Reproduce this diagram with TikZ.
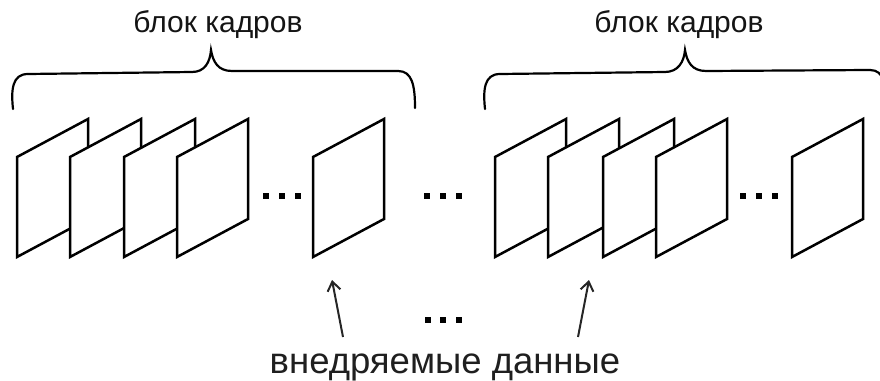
\documentclass[tikz,border=0pt]{standalone}
\usepackage{fontspec}
\setmainfont{Liberation Sans}
\usetikzlibrary{arrows.meta}
\tikzset{
  framebox/.style={draw=black, fill=white, line width=2.5pt, line join=miter},
  bracepath/.style={draw=black, line width=2.2pt, line cap=round},
  sqdot/.style={rectangle, fill=black, minimum size=5.5pt, inner sep=0pt},
  toplbl/.style={anchor=base, inner sep=0pt, font=\fontsize{30}{35}\selectfont, text=black!92},
  botlbl/.style={anchor=base, inner sep=0pt, font=\fontsize{36.5}{44}\selectfont, text=black!88},
  ptr/.style={draw=black!85, line width=2pt, -{Straight Barb[length=9pt,width=13pt,line width=2pt]}}
}
\newcommand{\myframe}[1]{\path[framebox] (#1,157) -- (#1+71,119) -- (#1+71,219) -- (#1,257) -- cycle;}
\begin{document}
\begin{tikzpicture}[x=1pt,y=-1pt]
\useasboundingbox (0,0) rectangle (880,380);
\clip (0,0) rectangle (880,380);
% labels
\node[toplbl] (t1) at (218,32) {блок кадров};
\node[toplbl] (t2) at (679,32) {блок кадров};
% braces
\path[bracepath] (13,109) .. controls (11,90) and (12,74) .. (28,74) -- (192,72)
  .. controls (205,72) and (210,62) .. (211,50)
  .. controls (213,62) and (218,71) .. (232,71) -- (398,71)
  .. controls (412,71) and (415,85) .. (415,108);
\path[bracepath] (485,109) .. controls (483,90) and (484,74) .. (500,74) -- (665,72)
  .. controls (678,72) and (684,62) .. (685,50)
  .. controls (687,62) and (692,71) .. (706,71) -- (870,70)
  .. controls (884,70) and (887,85) .. (887,108);
% frames group 1
\myframe{17}
\myframe{70}
\myframe{124}
\myframe{177}
\myframe{313}
% frames group 2
\myframe{495}
\myframe{548}
\myframe{603}
\myframe{656}
\myframe{792}
% dots
\node[sqdot] (d1) at (266,196) {};
\node[sqdot] (d2) at (282,196) {};
\node[sqdot] (d3) at (298,196) {};
\node[sqdot] (m1) at (427,196) {};
\node[sqdot] (m2) at (443,196) {};
\node[sqdot] (m3) at (459,196) {};
\node[sqdot] (e1) at (743,196) {};
\node[sqdot] (e2) at (759,196) {};
\node[sqdot] (e3) at (775,196) {};
\node[sqdot] (b1) at (428,320) {};
\node[sqdot] (b2) at (443,320) {};
\node[sqdot] (b3) at (459,320) {};
% bottom label
\node[botlbl] (t3) at (445,373) {внедряемые данные};
% arrows
\coordinate (a1s) at (343,337);
\coordinate (a1e) at (332,280);
\coordinate (a2s) at (578,337);
\coordinate (a2e) at (589,280);
\draw[ptr] (a1s) -- (a1e);
\draw[ptr] (a2s) -- (a2e);
\end{tikzpicture}
\end{document}
